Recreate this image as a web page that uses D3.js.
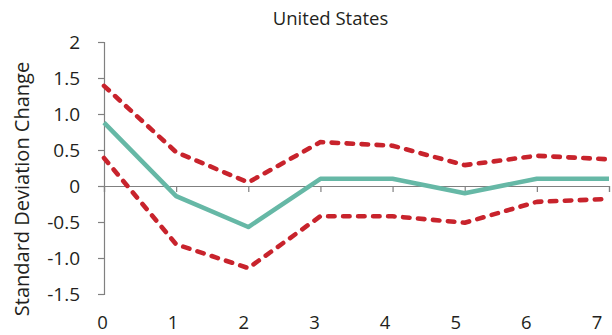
<!DOCTYPE html>
<html>
<head>
<meta charset="utf-8">
<script src="https://cdn.jsdelivr.net/npm/d3@7"></script>
<style>
  body { margin: 0; background: #fff; }
  text { font-family: "Open Sans", sans-serif; fill: #231f20; }
</style>
</head>
<body>
<script>
const width = 612;
const height = 335;

const periods = [0, 1, 2, 3, 4, 5, 6, 7];
const response = [0.88, -0.14, -0.57, 0.10, 0.10, -0.10, 0.10, 0.10];
const upperBand = [1.39, 0.47, 0.05, 0.61, 0.56, 0.29, 0.42, 0.37];
const lowerBand = [0.39, -0.81, -1.14, -0.42, -0.42, -0.51, -0.22, -0.18];
const yTicks = [2, 1.5, 1.0, 0.5, 0, -0.5, -1.0, -1.5];
const yTickLabels = ["2", "1.5", "1.0", "0.5", "0", "-0.5", "-1.0", "-1.5"];

const svg = d3.select("body").append("svg")
              .attr("width", width)
              .attr("height", height);

const x = d3.scaleLinear().domain([0, 7]).range([104, 609]);
// labels sit a bit left of the ticks in the original
const xLabel = d3.scaleLinear().domain([0, 7]).range([102.5, 597]);
const y = d3.scaleLinear().domain([-1.5, 2]).range([294, 42]);

// y axis
const yAxis = svg.append("g")
    .attr("transform", `translate(${x(0)},0)`)
    .call(d3.axisLeft(y).tickValues(yTicks).tickSize(6).tickPadding(18)
        .tickFormat((d, i) => yTickLabels[i]));
yAxis.select(".domain").attr("stroke", "#808080").attr("stroke-width", 1.2);
yAxis.selectAll(".tick line").attr("stroke", "#808080").attr("stroke-width", 1.2);
yAxis.selectAll(".tick text").attr("font-size", 19).attr("font-family", null).attr("fill", "#231f20");

// x axis on the zero line
const xAxis = svg.append("g")
    .attr("transform", `translate(0,${y(0)})`)
    .call(d3.axisBottom(x).tickValues(periods).tickSize(6).tickFormat(""));
xAxis.select(".domain").attr("stroke", "#808080").attr("stroke-width", 1.2);
xAxis.selectAll(".tick line").attr("stroke", "#808080").attr("stroke-width", 1.2);

svg.append("g").selectAll("text")
    .data(periods)
    .join("text")
    .attr("x", d => xLabel(d))
    .attr("y", 329)
    .attr("text-anchor", "middle")
    .attr("font-size", 18.5)
    .text(d => d);

const line = d3.line()
    .x((d, i) => x(periods[i]))
    .y(d => y(d));

[upperBand, lowerBand].forEach(band => {
    svg.append("path")
        .datum(band)
        .attr("d", line)
        .attr("fill", "none")
        .attr("stroke", "#c8232c")
        .attr("stroke-width", 4.6)
        .attr("stroke-dasharray", "6.5,8.5")
        .attr("stroke-linecap", "round")
        .attr("stroke-linejoin", "round");
});

svg.append("path")
    .datum(response)
    .attr("d", line)
    .attr("fill", "none")
    .attr("stroke", "#66b8a6")
    .attr("stroke-width", 4.5)
    .attr("stroke-linejoin", "round");

svg.append("text")
    .attr("x", 330.5)
    .attr("y", 25)
    .attr("text-anchor", "middle")
    .attr("font-size", 18.5)
    .text("United States");

svg.append("text")
    .attr("transform", `translate(29,189) rotate(-90)`)
    .attr("text-anchor", "middle")
    .attr("font-size", 20)
    .text("Standard Deviation Change");
</script>
</body>
</html>
